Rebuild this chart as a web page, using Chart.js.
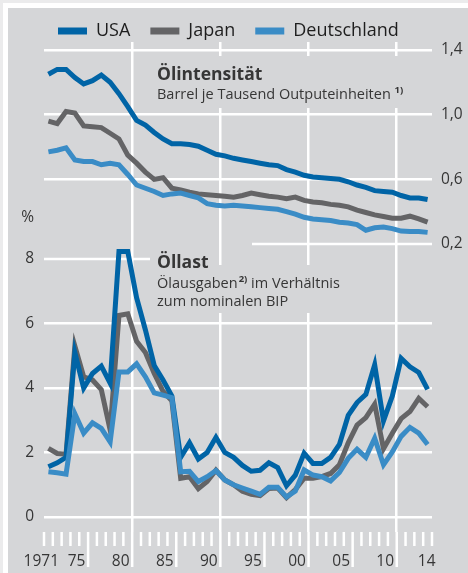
<!DOCTYPE html>
<html lang="de">

<head>
    <meta charset="UTF-8">
    <title>Ölintensität und Öllast</title>
    <script src="https://cdn.jsdelivr.net/npm/chart.js"></script>
    <style>
        body {
            margin: 0;
            background: #fff;
        }

        .frame {
            position: relative;
            width: 468px;
            height: 573px;
            background: #ebebec;
            overflow: hidden;
        }

        .inner {
            position: absolute;
            left: 3px;
            top: 3px;
            right: 0;
            bottom: 0;
            background: #fff;
        }

        .panel {
            position: absolute;
            left: 8px;
            top: 8px;
            right: 0;
            bottom: 0;
            background: #d5d6d8;
        }

        canvas {
            position: absolute;
            left: 0;
            top: 0;
        }
    </style>
</head>

<body>
    <div class="frame">
        <div class="inner"></div>
        <div class="panel"></div>
        <canvas id="myChart" width="468" height="573"></canvas>
    </div>

    <script>
        const years = [1971, 1972, 1973, 1974, 1975, 1976, 1977, 1978, 1979, 1980,
            1981, 1982, 1983, 1984, 1985, 1986, 1987, 1988, 1989, 1990,
            1991, 1992, 1993, 1994, 1995, 1996, 1997, 1998, 1999, 2000,
            2001, 2002, 2003, 2004, 2005, 2006, 2007, 2008, 2009, 2010,
            2011, 2012, 2013, 2014];

        const countries = ['USA', 'Japan', 'Deutschland'];
        const colors = ['#0064a6', '#646466', '#3a8cc6'];

        // Ölintensität, Barrel je Tausend Outputeinheiten (rechte Skala)
        const usaIntensity = [1.25, 1.28, 1.28, 1.23, 1.19, 1.21, 1.245, 1.20, 1.13, 1.05,
            0.965, 0.935, 0.89, 0.85, 0.82, 0.82, 0.815, 0.805, 0.78, 0.755,
            0.745, 0.73, 0.72, 0.71, 0.70, 0.69, 0.685, 0.66, 0.645, 0.625,
            0.615, 0.61, 0.605, 0.60, 0.585, 0.565, 0.55, 0.53, 0.525, 0.52,
            0.50, 0.485, 0.485, 0.475];
        const japanIntensity = [0.96, 0.945, 1.02, 1.01, 0.93, 0.925, 0.92, 0.885, 0.85, 0.75,
            0.70, 0.645, 0.60, 0.61, 0.545, 0.535, 0.52, 0.51, 0.505, 0.50,
            0.495, 0.49, 0.50, 0.515, 0.505, 0.495, 0.49, 0.48, 0.49, 0.47,
            0.46, 0.455, 0.445, 0.44, 0.43, 0.41, 0.395, 0.38, 0.37, 0.36,
            0.36, 0.372, 0.355, 0.335];
        const deIntensity = [0.77, 0.78, 0.795, 0.72, 0.71, 0.71, 0.69, 0.70, 0.69, 0.63,
            0.565, 0.545, 0.525, 0.50, 0.51, 0.515, 0.50, 0.485, 0.45, 0.44,
            0.435, 0.44, 0.435, 0.43, 0.425, 0.42, 0.415, 0.40, 0.385, 0.365,
            0.355, 0.35, 0.345, 0.335, 0.33, 0.32, 0.285, 0.30, 0.305, 0.295,
            0.28, 0.278, 0.278, 0.272];

        // Öllast, Ölausgaben in % des nominalen BIP (linke Skala)
        const usaLoad = [1.56, 1.68, 1.85, 5.1, 4.0, 4.45, 4.68, 4.15, 8.23, 8.23,
            6.8, 5.8, 4.7, 4.25, 3.75, 1.85, 2.3, 1.8, 2.0, 2.47,
            2.0, 1.85, 1.6, 1.42, 1.45, 1.68, 1.53, 0.97, 1.3, 1.98,
            1.66, 1.66, 1.85, 2.25, 3.15, 3.55, 3.8, 4.72, 2.98, 3.75,
            4.92, 4.66, 4.48, 3.96];
        const japanLoad = [2.13, 1.97, 1.95, 5.3, 4.35, 4.25, 3.95, 2.7, 6.25, 6.3,
            5.45, 5.1, 4.45, 3.9, 3.6, 1.2, 1.25, 0.88, 1.1, 1.45,
            1.15, 1.0, 0.8, 0.7, 0.66, 0.88, 0.9, 0.6, 0.85, 1.2,
            1.2, 1.25, 1.35, 1.62, 2.3, 2.85, 3.08, 3.5, 2.12, 2.6,
            3.05, 3.27, 3.68, 3.42];
        const deLoad = [1.40, 1.37, 1.33, 3.2, 2.6, 2.92, 2.75, 2.33, 4.5, 4.5,
            4.75, 4.35, 3.85, 3.78, 3.7, 1.40, 1.42, 1.1, 1.25, 1.44,
            1.15, 1.0, 0.9, 0.8, 0.7, 0.92, 0.92, 0.62, 0.8, 1.46,
            1.3, 1.25, 1.12, 1.38, 1.82, 2.1, 1.85, 2.44, 1.62, 2.02,
            2.5, 2.78, 2.6, 2.25];

        const leftTicks = [0, 2, 4, 6, 8];
        const rightTicks = [0.2, 0.6, 1.0, 1.4];
        const xTickLabels = ['1971', '75', '80', '85', '90', '95', '00', '05', '10', '14'];
        const xTickLabelPos = [1972.2, 1975.2, 1980.2, 1985.2, 1990.2, 1995.2, 2000.2, 2005.2, 2010.2, 2014.9];
        const decadeLines = [1980.5, 1990.5, 2000.5, 2010.5];

        const panelGray = '#d5d6d8';
        const textColor = '#363636';
        const fontFamily = '"Open Sans", sans-serif';
        const legendStartX = 58;

        Chart.defaults.font.family = fontFamily;

        function toPoints(values) {
            return values.map((v, i) => ({ x: years[i], y: v }));
        }

        const loadSeries = [usaLoad, japanLoad, deLoad];
        const intensitySeries = [usaIntensity, japanIntensity, deIntensity];
        const drawOrder = [1, 2, 0];

        const datasets = [];
        loadSeries.forEach((s, i) => datasets.push({
            label: countries[i],
            data: toPoints(s),
            yAxisID: 'yL',
            borderColor: colors[i],
            backgroundColor: colors[i],
            borderWidth: 5,
            pointRadius: 0,
            order: drawOrder[i]
        }));
        intensitySeries.forEach((s, i) => datasets.push({
            label: countries[i],
            data: toPoints(s),
            yAxisID: 'yR',
            borderColor: colors[i],
            backgroundColor: colors[i],
            borderWidth: 5,
            pointRadius: 0,
            order: drawOrder[i]
        }));

        function hLine(ctx, x1, x2, y) {
            ctx.beginPath();
            ctx.moveTo(x1, y);
            ctx.lineTo(x2, y);
            ctx.stroke();
        }

        const decor = {
            id: 'decor',
            afterLayout(chart) {
                // legend sits left of centre in the original
                const lg = chart.legend;
                if (lg && lg.lineWidths) {
                    lg.right = 2 * legendStartX - lg.left - lg.options.labels.padding + lg.lineWidths[0];
                }
            },
            beforeDatasetsDraw(chart) {
                const { ctx, chartArea, scales } = chart;
                ctx.save();
                // gray boxes behind the panel texts hide the grid
                ctx.fillStyle = panelGray;
                ctx.fillRect(150, 56, 260, 52);
                ctx.fillRect(150, 265, 200, 48);

                ctx.strokeStyle = '#fff';
                ctx.lineWidth = 2.5;
                // shortened grid lines
                hLine(ctx, chartArea.left, 150, scales.yL.getPixelForValue(8));
                hLine(ctx, 252, chartArea.right, scales.yR.getPixelForValue(0.2));

                // year tick marks below the plot
                for (let b = 1970.5; b <= 2014.5; b += 1) {
                    const x = scales.x.getPixelForValue(b);
                    const long = b > 1971 && (b - 0.5) % 5 === 0;
                    ctx.beginPath();
                    ctx.moveTo(x, chartArea.bottom);
                    ctx.lineTo(x, chartArea.bottom + (long ? 35 : 14));
                    ctx.stroke();
                }
                ctx.restore();
            },
            afterDraw(chart) {
                const ctx = chart.ctx;
                const subFont = '14.5px ' + fontFamily;
                const supFont = 'bold 9.5px ' + fontFamily;
                ctx.save();
                ctx.fillStyle = textColor;
                ctx.textAlign = 'left';
                ctx.textBaseline = 'alphabetic';

                ctx.font = 'bold 17.5px ' + fontFamily;
                ctx.fillText('Ölintensität', 157, 80);
                ctx.fillText('Öllast', 157, 268);

                ctx.font = subFont;
                const t1 = 'Barrel je Tausend Outputeinheiten';
                ctx.fillText(t1, 157, 99);
                const w = ctx.measureText(t1 + ' ').width;
                ctx.font = supFont;
                ctx.fillText('1)', 157 + w, 93);

                ctx.font = subFont;
                ctx.fillText('Ölausgaben', 157, 288);
                const w1 = ctx.measureText('Ölausgaben').width;
                ctx.font = supFont;
                ctx.fillText('2)', 158 + w1, 282);
                const w2 = ctx.measureText('2)').width;
                ctx.font = subFont;
                ctx.fillText(' im Verhältnis', 158 + w1 + w2, 288);
                ctx.fillText('zum nominalen BIP', 157, 306);
                ctx.restore();
            }
        };

        const tickFont = { size: 15.5 };
        const clear = 'rgba(0,0,0,0)';

        const chart = new Chart(document.getElementById('myChart'), {
            type: 'line',
            data: { datasets: datasets },
            options: {
                responsive: false,
                animation: false,
                layout: { padding: { top: 2, right: 0, left: 0, bottom: 0 } },
                elements: { line: { tension: 0 } },
                scales: {
                    x: {
                        type: 'linear',
                        min: 1970.5,
                        max: 2014.5,
                        afterBuildTicks: s => {
                            s.ticks = decadeLines.concat(xTickLabelPos).sort((a, b) => a - b).map(v => ({ value: v }));
                        },
                        afterFit: s => { s.height = 41; },
                        grid: {
                            color: c => (c.tick && decadeLines.includes(c.tick.value)) ? '#fff' : clear,
                            lineWidth: 2.5,
                            drawTicks: false
                        },
                        border: { display: false },
                        ticks: {
                            autoSkip: false,
                            maxRotation: 0,
                            align: 'end',
                            padding: 20,
                            color: textColor,
                            font: tickFont,
                            callback: v => {
                                const i = xTickLabelPos.indexOf(v);
                                return i >= 0 ? xTickLabels[i] : '';
                            }
                        }
                    },
                    yL: {
                        position: 'left',
                        min: -0.465,
                        max: 14.73,
                        afterBuildTicks: s => {
                            s.ticks = leftTicks.concat([9.3]).map(v => ({ value: v }));
                        },
                        afterFit: s => { s.width = 44; },
                        grid: {
                            color: c => (c.tick && c.tick.value < 7) ? '#fff' : clear,
                            lineWidth: 2.5,
                            drawTicks: false
                        },
                        border: { display: false },
                        ticks: {
                            padding: 10,
                            color: textColor,
                            font: tickFont,
                            callback: v => v === 9.3 ? '%' : String(v)
                        }
                    },
                    yR: {
                        position: 'right',
                        min: -1.5814,
                        max: 1.4495,
                        afterBuildTicks: s => {
                            s.ticks = rightTicks.map(v => ({ value: v }));
                        },
                        afterFit: s => { s.width = 36; },
                        grid: {
                            color: c => (c.tick && c.tick.value > 0.3) ? '#fff' : clear,
                            lineWidth: 2.5,
                            drawTicks: false
                        },
                        border: { display: false },
                        ticks: {
                            padding: 9,
                            color: textColor,
                            font: tickFont,
                            callback: v => v.toFixed(1).replace('.', ',')
                        }
                    }
                },
                plugins: {
                    tooltip: { enabled: false },
                    legend: {
                        display: true,
                        position: 'top',
                        maxHeight: 40,
                        labels: {
                            boxWidth: 29,
                            boxHeight: 7,
                            padding: 20,
                            color: '#1e1e1e',
                            font: { size: 18 },
                            filter: item => item.datasetIndex < 3,
                            sort: (a, b) => a.datasetIndex - b.datasetIndex,
                            generateLabels: ch => Chart.defaults.plugins.legend.labels.generateLabels(ch)
                                .map(l => Object.assign({}, l, { fillStyle: l.strokeStyle, lineWidth: 0 }))
                        }
                    }
                }
            },
            plugins: [decor]
        });
    </script>

</body>

</html>
